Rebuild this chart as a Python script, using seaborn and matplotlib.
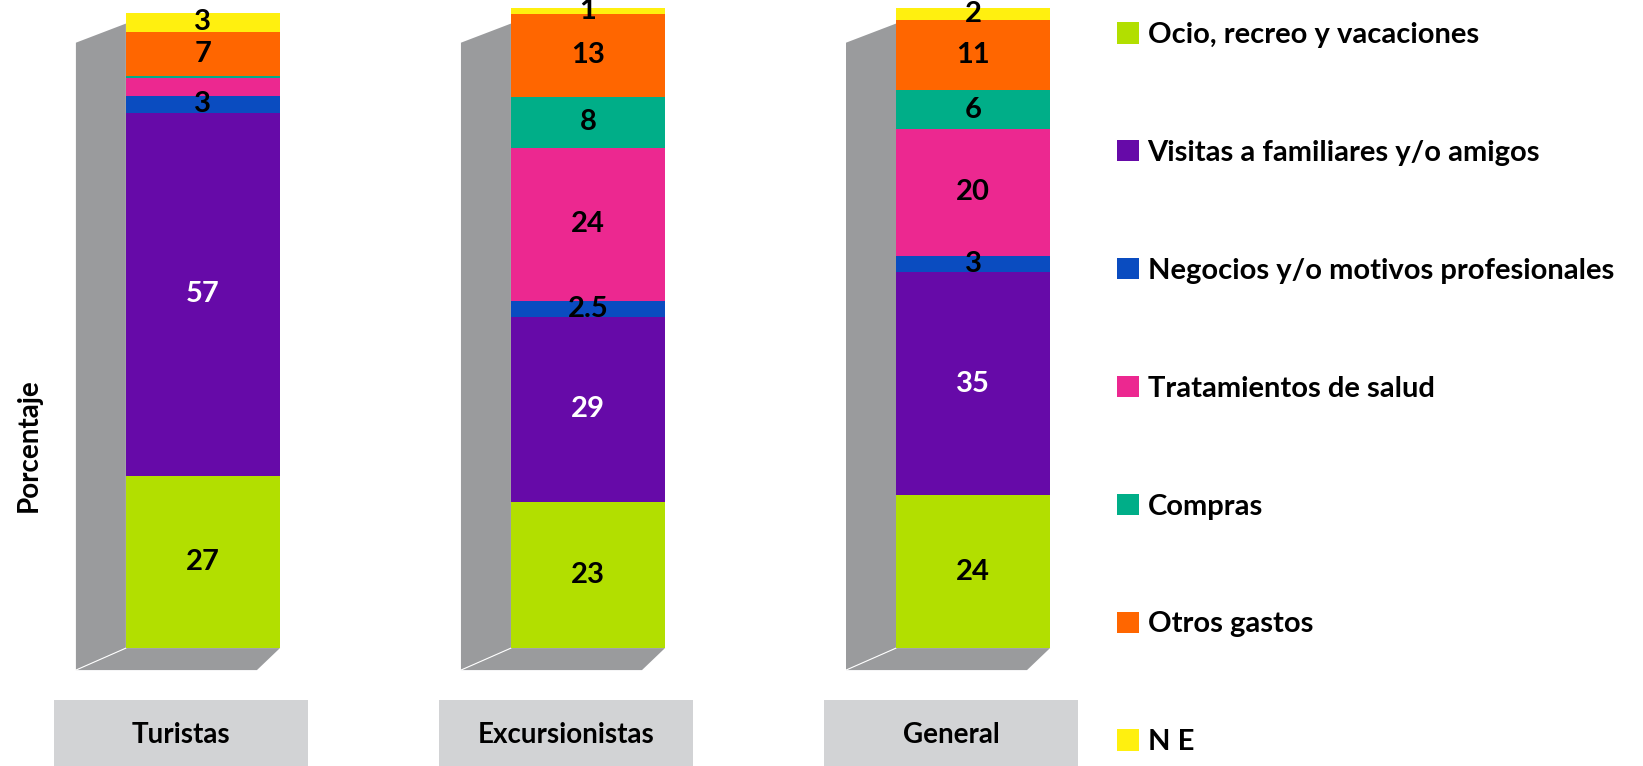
import matplotlib
matplotlib.use("Agg")
import matplotlib.pyplot as plt
from matplotlib.patches import Polygon, Rectangle, Patch
import seaborn as sns
import numpy as np

# datos (porcentaje por motivo de viaje)
grupos = ["Turistas", "Excursionistas", "General"]
motivos = ["Ocio, recreo y vacaciones", "Visitas a familiares y/o amigos",
           "Negocios y/o motivos profesionales", "Tratamientos de salud",
           "Compras", "Otros gastos", "N E"]
ocio = [27, 23, 24]
visitas = [57, 29, 35]
negocios = [2.7, 2.5, 2.5]
salud = [2.7, 24, 20]
compras = [0.3, 8, 6]
otros = [7, 13, 11]
ne = [3, 1, 2]
etiquetas = [
    ["27", "23", "24"],
    ["57", "29", "35"],
    ["3", "2.5", "3"],
    [None, "24", "20"],
    [None, "8", "6"],
    ["7", "13", "11"],
    ["3", "1", "2"],
]
colores = ["#B2DF00", "#660AA8", "#0A4CC0", "#EC2890", "#00AE88", "#FF6600", "#FFF00F"]

sns.set_style("white")
plt.rcParams["font.family"] = ["Lato", "DejaVu Sans"]
plt.rcParams["font.weight"] = "bold"
plt.rcParams["text.color"] = "black"

fig = plt.figure(figsize=(16.43, 7.66), dpi=100)
ax = fig.add_axes([0, 0, 1, 1])

series = [ocio, visitas, negocios, salud, compras, otros, ne]
acum = np.cumsum(np.array(series), axis=0)
ancho = 0.4
gris = "#9A9B9D"

# paredes 3D (lado izquierdo y piso)
dx_pared = 50 / 385
for i in range(len(grupos)):
    izq = i - ancho / 2
    der = i + ancho / 2
    pared = Polygon([(izq, 0), (izq, 98), (izq - dx_pared, 95), (izq - dx_pared, -3.45)],
                    closed=True, facecolor=gris, edgecolor="none", zorder=1)
    piso = Polygon([(izq, 0), (der, 0), (der - 23 / 385, -3.45), (izq - dx_pared, -3.45)],
                   closed=True, facecolor=gris, edgecolor="none", zorder=1)
    ax.add_patch(pared)
    ax.add_patch(piso)
    ax.plot([izq, izq - dx_pared], [0, -3.45], color="white", lw=0.8, zorder=2)

# barras apiladas: se dibuja de arriba hacia abajo sobreponiendo
for k in range(len(series) - 1, -1, -1):
    sns.barplot(x=grupos, y=acum[k], color=colores[k], width=ancho, saturation=1,
                edgecolor="none", linewidth=0, ax=ax, zorder=3)

# etiquetas de datos
for k in range(len(series)):
    for i in range(len(grupos)):
        txt = etiquetas[k][i]
        if txt is None:
            continue
        ymid = acum[k][i] - series[k][i] / 2
        ax.text(i, ymid, txt, ha="center", va="center", fontsize=21, fontweight="bold",
                color="white" if k == 1 else "black", zorder=5)

# cajas de categoria
for i, g in enumerate(grupos):
    cx = i - 22 / 385
    ax.add_patch(Rectangle((cx - 0.33, -19), 0.66, 10.8, facecolor="#D2D3D5",
                           edgecolor="none", zorder=1))
    ax.text(cx, -13.7, g, ha="center", va="center", fontsize=20, fontweight="bold",
            color="black")

ax.text(-0.452, 31.9, "Porcentaje", rotation=90, ha="center", va="center",
        fontsize=20, fontweight="bold", color="black")

ax.set_xlim(-0.527, 3.74)
ax.set_ylim(-18.5, 101.7)
ax.axis("off")

handles = [Patch(facecolor=c, edgecolor="none") for c in colores]
leg = ax.legend(handles, motivos, loc="upper left", bbox_to_anchor=(1117 / 1643, 1 - 22 / 766),
                bbox_transform=fig.transFigure, frameon=False,
                prop={"weight": "bold", "size": 21}, handlelength=0.75, handleheight=0.75,
                handletextpad=0.3, labelspacing=3.15, borderpad=0, borderaxespad=0)
for t in leg.get_texts():
    t.set_color("black")

fig.savefig("out.png", dpi=100)
